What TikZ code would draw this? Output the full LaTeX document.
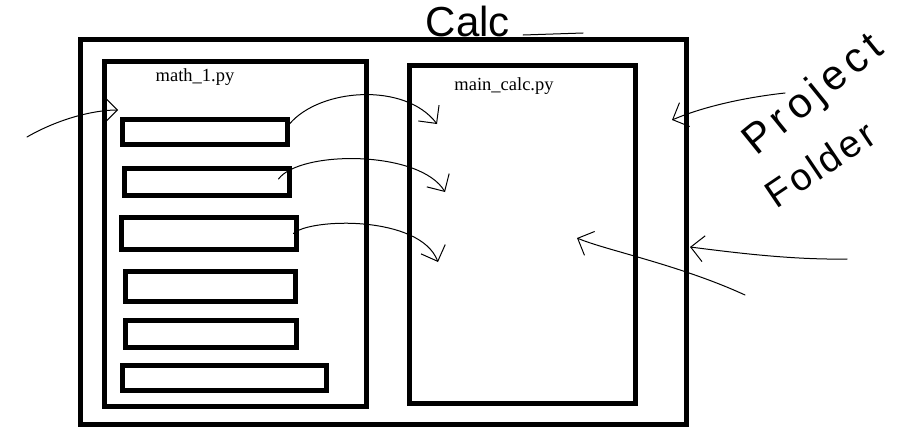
\documentclass[tikz,border=0pt]{standalone}
\usepackage{fontspec}
\setmainfont{Liberation Serif}
\newfontfamily\handfont{Liberation Sans}
\usetikzlibrary{arrows.meta}
\definecolor{ProjInk}{RGB}{0,0,0}
\tikzset{
  proj/panel/.style={
    draw=ProjInk,
    line width=5pt,
    inner sep=0pt,
    outer sep=0pt
  },
  proj/func/.style={proj/panel},
  proj/file/.style={font=\fontsize{18.5}{20}\selectfont, text=ProjInk, inner sep=0pt},
  proj/hand/.style={font=\handfont\fontsize{42}{42}\selectfont, text=ProjInk, inner sep=0pt},
  proj/stroke/.style={draw=ProjInk, line width=1pt, line cap=round, line join=round},
  proj/arrow/.style={proj/stroke, -{Straight Barb[length=13pt,width=26pt]}}
}
\begin{document}
\begin{tikzpicture}[x=1pt,y=-1pt]
  \useasboundingbox (0,0) rectangle (899,447);
  % folder and the two files
  \node[proj/panel,minimum width=606pt,minimum height=385pt] (folder) at (383.5,232) {};
  \node[proj/panel,minimum width=262pt,minimum height=345pt] (math) at (235.5,234) {};
  \node[proj/panel,minimum width=226pt,minimum height=338pt] (main) at (522.5,234.5) {};
  \node[proj/file] (mathname) at (195,77) {math\_1.py};
  \node[proj/file] (mainname) at (504,86.5) {main\_calc.py};
  % functions in math_1.py
  \node[proj/func,minimum width=165pt,minimum height=25pt] (f1) at (205,132) {};
  \node[proj/func,minimum width=165pt,minimum height=27pt] (f2) at (207,182) {};
  \node[proj/func,minimum width=175pt,minimum height=32pt] (f3) at (209,233.5) {};
  \node[proj/func,minimum width=170pt,minimum height=30pt] (f4) at (210.5,286.5) {};
  \node[proj/func,minimum width=171pt,minimum height=27pt] (f5) at (211,334) {};
  \node[proj/func,minimum width=204pt,minimum height=25pt] (f6) at (224.5,378) {};
  % handwritten notes
  \node[proj/hand] (calcnote) at (468,21) {Calc};
  \draw[proj/stroke] (523,35) -- (583,33);
  \node[proj/hand,rotate=39] (projnote) at (814,96) {\addfontfeatures{LetterSpace=14}Project};
  \node[proj/hand,rotate=34,font=\handfont\fontsize{38}{38}\selectfont] (foldnote) at (820,164) {\addfontfeatures{LetterSpace=8}Folder};
  % sketched arrows
  \coordinate (t1) at (437,124);
  \coordinate (t2) at (445,192);
  \coordinate (t3) at (438,262);
  \draw[proj/arrow] ([shift={(2pt,8pt)}]f1.east) .. controls (320,88) and (405,82) .. (t1);
  \draw[proj/arrow] ([shift={(-11pt,3pt)}]f2.east) .. controls (300,150) and (420,150) .. (t2);
  \draw[proj/arrow] ([xshift=-3pt]f3.east) .. controls (310,218) and (420,215) .. (t3);
  \coordinate (inTail) at (27,137);
  \coordinate (inTip) at ([shift={(-4.5pt,9.5pt)}]f1.north west);
  \draw[proj/arrow] (inTail) .. controls (60,118) and (95,110) .. (inTip);
  \coordinate (noteTail) at (785,93);
  \coordinate (noteTip) at (672,120);
  \draw[proj/arrow] (noteTail) .. controls (740,98) and (700,108) .. (noteTip);
  \coordinate (sideTail) at (847,259);
  \coordinate (sideTip) at (690,247);
  \draw[proj/arrow] (sideTail) .. controls (790,260) and (730,252) .. (sideTip);
  \coordinate (lowTail) at (745,295);
  \coordinate (lowTip) at (577,238);
  \draw[proj/arrow] (lowTail) .. controls (680,265) and (605,250) .. (lowTip);
\end{tikzpicture}
\end{document}
